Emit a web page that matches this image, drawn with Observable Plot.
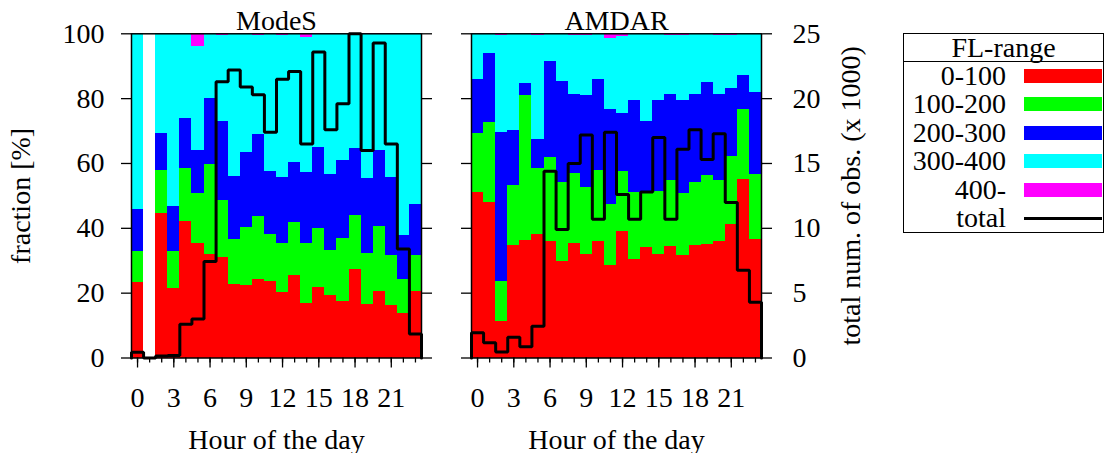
<!DOCTYPE html>
<html>
<head>
<meta charset="utf-8">
<script src="https://cdn.jsdelivr.net/npm/d3@7"></script>
<script src="https://cdn.jsdelivr.net/npm/@observablehq/plot@0.6"></script>
<style>
  html, body { margin: 0; padding: 0; background: white; }
  #wrap { position: relative; width: 1109px; height: 453px; font-family: "Liberation Serif", serif; }
  #wrap > div.panel { position: absolute; top: 0; }
  #legend { position: absolute; left: 903px; top: 33px; width: 199px; height: 198px; border: 1.5px solid black; box-sizing: content-box; }
  #legend .hdr { position: absolute; left: 0; top: 0; width: 100%; height: 27px; border-bottom: 1.5px solid black; text-align: center; font-size: 28px; line-height: 28px; }
  #legend .row { position: absolute; left: 0; width: 100%; height: 28px; }
  #legend .lab { position: absolute; right: 97px; top: 0; font-size: 28px; line-height: 28px; text-align: right; white-space: nowrap; }
  #legend .sw { position: absolute; left: 120px; width: 78px; }
</style>
</head>
<body>
<div id="wrap">
  <div class="panel" id="pA" style="left:0px"></div>
  <div class="panel" id="pB" style="left:440px"></div>
  <div id="legend"></div>
</div>
<script>
// ---------- data ----------
const hours = d3.range(24);
const layers = ["0-100", "100-200", "200-300", "300-400", "400-"];
const layerColors = ["#ff0000", "#00ff00", "#0000ff", "#00ffff", "#ff00ff"];
const panelTitles = ["ModeS", "AMDAR"];
const hourTicks = [0, 3, 6, 9, 12, 15, 18, 21];
const fractionTicks = [0, 20, 40, 60, 80, 100];
const totalTicks = [0, 5, 10, 15, 20, 25];

// ModeS fractions [%] per FL-range (hour 1: no data)
const modesL0 = [23.3, 0, 44.6, 21.3, 42.1, 35.4, 32.0, 30.9, 22.8, 22.4, 24.3, 23.6, 20.2, 25.5, 16.9, 21.8, 19.3, 17.5, 27.3, 16.5, 20.6, 16.1, 13.7, 20.6];
const modesL1 = [9.7, 0, 13.3, 11.7, 16.5, 15.4, 27.7, 17.7, 13.8, 17.9, 19.4, 14.6, 15.2, 16.4, 18.5, 18.2, 13.9, 19.5, 16.8, 15.8, 20.0, 15.6, 10.6, 11.1];
const modesL2 = [12.8, 0, 11.3, 13.8, 15.2, 13.2, 20.4, 24.4, 19.3, 23.1, 25.3, 19.4, 20.4, 18.4, 21.8, 25.0, 23.4, 23.9, 20.5, 23.1, 23.5, 24.1, 13.5, 15.8];
const modesL3 = [54.2, 0, 30.8, 53.2, 26.2, 32.2, 19.9, 26.6, 44.1, 36.6, 30.6, 42.4, 43.8, 39.7, 41.8, 34.7, 43.1, 39.1, 35.1, 44.3, 35.6, 43.9, 62.2, 52.5];
const modesL4 = [0, 0, 0, 0, 0, 3.8, 0, 0.4, 0, 0, 0.4, 0, 0.4, 0, 1.0, 0.3, 0.3, 0, 0.3, 0.3, 0.3, 0.3, 0, 0];
// ModeS total number of observations (x 1000)
const modesTotal = [0.45, 0.0, 0.15, 0.2, 2.6, 3.0, 7.45, 21.3, 22.2, 20.9, 20.3, 17.4, 21.5, 22.1, 16.5, 23.6, 17.6, 19.6, 25.0, 16.0, 24.3, 16.5, 8.4, 1.85];

// AMDAR fractions [%] per FL-range
const amdarL0 = [51.1, 48.1, 11.3, 34.7, 36.3, 38.1, 36.0, 29.9, 35.4, 32.0, 36.0, 28.6, 39.1, 30.4, 34.1, 32.0, 34.4, 31.7, 34.7, 35.0, 36.0, 41.2, 55.1, 36.6];
const amdarL1 = [18.1, 24.6, 12.3, 18.6, 44.7, 20.5, 25.9, 24.3, 21.5, 20.6, 21.9, 18.9, 18.5, 20.7, 16.7, 19.4, 20.4, 19.1, 19.5, 21.3, 18.8, 21.0, 21.6, 20.0];
const amdarL2 = [16.7, 21.1, 46.0, 16.9, 3.7, 8.9, 29.6, 31.1, 24.5, 28.4, 28.0, 29.2, 17.8, 28.3, 22.3, 28.0, 26.6, 28.6, 27.2, 28.7, 26.6, 20.9, 10.5, 25.3];
const amdarL3 = [14.1, 6.2, 30.0, 29.8, 15.3, 32.1, 8.5, 14.7, 18.2, 18.6, 14.1, 22.0, 23.7, 20.6, 26.9, 20.6, 18.2, 20.0, 18.6, 15.0, 18.0, 16.5, 12.8, 18.1];
const amdarL4 = [0, 0, 0.4, 0, 0, 0.4, 0, 0, 0.4, 0.4, 0, 1.3, 0.9, 0, 0, 0, 0.4, 0.6, 0, 0, 0.6, 0.4, 0, 0];
// AMDAR total number of observations (x 1000)
const amdarTotal = [1.95, 1.18, 0.46, 1.6, 0.87, 2.44, 14.4, 9.9, 15.0, 17.2, 10.7, 17.4, 12.6, 10.7, 12.8, 17.0, 10.7, 16.1, 17.6, 15.3, 17.3, 12.0, 6.76, 4.3];

// ---------- build tables ----------
function buildBars(series) {
  const rows = [];
  hours.forEach((h, i) => {
    series.forEach((arr, k) => rows.push({hour: h, layer: layers[k], value: arr[i]}));
  });
  return rows;
}
// histogram-steps outline; totals (x1000) expressed on the 0-100 axis (25 -> 100)
function buildSteps(totals) {
  const pts = [{x: hours[0] - 0.5, y: 0}];
  hours.forEach((h, i) => pts.push({x: h - 0.5, y: totals[i] * 4}));
  const last = hours[hours.length - 1];
  pts.push({x: last + 0.5, y: totals[totals.length - 1] * 4});
  pts.push({x: last + 0.5, y: 0});
  return pts;
}

const FONT = "'Liberation Serif', 'Times New Roman', serif";
const FS = 28;

function panel(title, series, totals, opts) {
  const bars = buildBars(series);
  const steps = buildSteps(totals);
  const marks = [
    Plot.rectY(bars, {x1: d => d.hour - 0.5, x2: d => d.hour + 0.5, y: "value", fill: "layer", shapeRendering: "crispEdges"}),
    Plot.line(steps, {x: "x", y: "y", curve: "step-after", stroke: "black", strokeWidth: 3, strokeLinejoin: "miter"}),
    Plot.frame({stroke: "black", strokeWidth: 1.5}),
    Plot.axisX({ticks: hours, tickSize: 5, tickFormat: () => "", strokeWidth: 1.3, label: null}),
    Plot.axisX({ticks: hourTicks, tickSize: 10, tickPadding: 19, fontSize: FS, strokeWidth: 1.3, label: null}),
    Plot.axisY({anchor: "left", ticks: fractionTicks, tickSize: 10, tickPadding: opts.leftLabels ? 17 : 0,
      tickFormat: opts.leftLabels ? d => d : () => "", fontSize: FS, strokeWidth: 1.3, label: null}),
    Plot.axisY({anchor: "right", ticks: fractionTicks, tickSize: 10, tickPadding: opts.rightLabels ? 21 : 0,
      tickFormat: opts.rightLabels ? d => d / 4 : () => "", fontSize: FS, strokeWidth: 1.3, label: null}),
    Plot.text([title], {text: d => d, frameAnchor: "top", lineAnchor: "middle", textAnchor: "middle", dy: -13, fontSize: FS}),
    Plot.text(["Hour of the day"], {text: d => d, frameAnchor: "bottom", lineAnchor: "middle", textAnchor: "middle", dy: 82, fontSize: FS})
  ];
  if (opts.leftLabels) marks.push(Plot.text(["fraction [%]"], {text: d => d, frameAnchor: "left", lineAnchor: "middle", textAnchor: "middle", dx: -110, rotate: -90, fontSize: FS}));
  if (opts.rightLabels) marks.push(Plot.text(["total num. of obs. (x 1000)"], {text: d => d, frameAnchor: "right", lineAnchor: "middle", textAnchor: "middle", dx: 90, rotate: -90, fontSize: FS}));
  return Plot.plot({
    width: opts.width, height: 453,
    marginLeft: opts.marginLeft, marginRight: opts.marginRight, marginTop: 33.3, marginBottom: 95.5,
    x: {domain: [hours[0] - 0.5, hours[hours.length - 1] + 0.5], axis: null},
    y: {domain: [0, 100], axis: null},
    color: {domain: layers, range: layerColors},
    style: {fontFamily: FONT, fontSize: FS + "px", background: "transparent", overflow: "visible"},
    marks
  });
}

document.getElementById("pA").appendChild(panel(panelTitles[0], [modesL0, modesL1, modesL2, modesL3, modesL4], modesTotal,
  {width: 440, marginLeft: 131, marginRight: 19, leftLabels: true, rightLabels: false}));
document.getElementById("pB").appendChild(panel(panelTitles[1], [amdarL0, amdarL1, amdarL2, amdarL3, amdarL4], amdarTotal,
  {width: 441, marginLeft: 31, marginRight: 120, leftLabels: false, rightLabels: true}));

// ---------- legend ----------
const legend = document.getElementById("legend");
const hdr = document.createElement("div");
hdr.className = "hdr"; hdr.textContent = "FL-range";
legend.appendChild(hdr);
const legendItems = layers.concat(["total"]);
legendItems.forEach((name, i) => {
  const row = document.createElement("div");
  row.className = "row";
  row.style.top = (28 + i * 28.4) + "px";
  const lab = document.createElement("div");
  lab.className = "lab"; lab.textContent = name;
  row.appendChild(lab);
  const sw = document.createElement("div");
  sw.className = "sw";
  if (i < layers.length) {
    sw.style.top = "7px"; sw.style.height = "14px"; sw.style.background = layerColors[i];
  } else {
    sw.style.top = "12.5px"; sw.style.height = "3px"; sw.style.background = "black";
  }
  row.appendChild(sw);
  legend.appendChild(row);
});
</script>
</body>
</html>
